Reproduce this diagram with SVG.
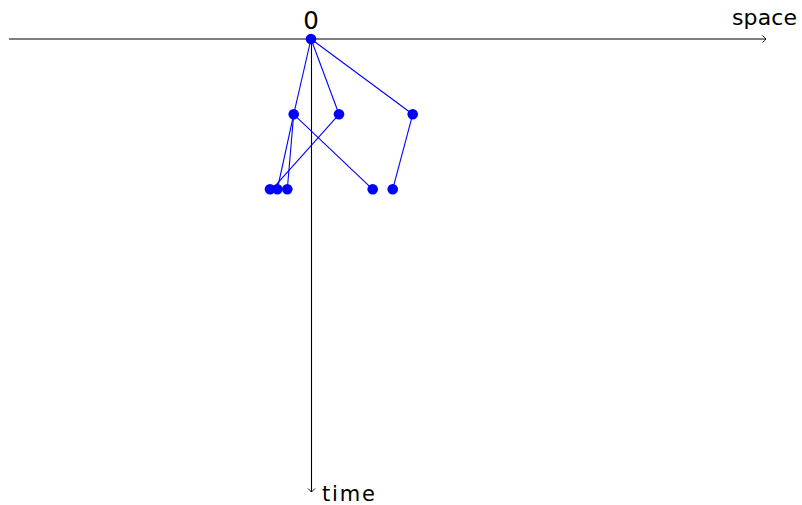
<svg xmlns="http://www.w3.org/2000/svg" width="802" height="505" viewBox="0 0 802 505">
<style>
.axis{stroke:#000;stroke-width:1.1;fill:none}
.edge{stroke:#0000ff;stroke-width:1.1;fill:none}
.node{fill:#0000ff}
.lbl{font-family:"DejaVu Sans",sans-serif;fill:#000}
</style>
<defs>
<marker id="arr" markerWidth="10" markerHeight="10" refX="5" refY="5" orient="auto" markerUnits="userSpaceOnUse">
<path d="M1.5,1.5 Q4,4 5,5 Q4,6 1.5,8.5" fill="none" stroke="#000" stroke-width="1"/>
</marker>
</defs>
<g id="axes">
<line class="axis" x1="9" y1="39" x2="766" y2="39" marker-end="url(#arr)"/>
<line class="axis" x1="311.5" y1="39" x2="311.5" y2="492" marker-end="url(#arr)"/>
<text class="lbl" x="732" y="25" font-size="22" textLength="65">space</text>
<text class="lbl" x="322" y="501" font-size="21" textLength="53">time</text>
<text class="lbl" x="311" y="29" font-size="24.5" text-anchor="middle">0</text>
</g>
<g id="connectors">
<line class="edge" x1="311" y1="39" x2="293.7" y2="114.3"/>
<line class="edge" x1="311" y1="39" x2="339" y2="114.3"/>
<line class="edge" x1="311" y1="39" x2="412.7" y2="114.3"/>
<line class="edge" x1="293.7" y1="114.3" x2="277.3" y2="189.3"/>
<line class="edge" x1="293.7" y1="114.3" x2="287.3" y2="189.3"/>
<line class="edge" x1="293.7" y1="114.3" x2="372.7" y2="189.3"/>
<line class="edge" x1="339" y1="114.3" x2="272" y2="189.3"/>
<line class="edge" x1="412.7" y1="114.3" x2="392.7" y2="189.3"/>
</g>
<g id="n0"><circle class="node" cx="311" cy="39" r="5.3"/></g>
<g id="n1"><circle class="node" cx="293.7" cy="114.3" r="5.3"/></g>
<g id="n2"><circle class="node" cx="339" cy="114.3" r="5.3"/></g>
<g id="n3"><circle class="node" cx="412.7" cy="114.3" r="5.3"/></g>
<g id="n4"><circle class="node" cx="270" cy="189.3" r="5.3"/></g>
<g id="n5"><circle class="node" cx="277.3" cy="189.3" r="5.3"/></g>
<g id="n6"><circle class="node" cx="287.3" cy="189.3" r="5.3"/></g>
<g id="n7"><circle class="node" cx="372.7" cy="189.3" r="5.3"/></g>
<g id="n8"><circle class="node" cx="392.7" cy="189.3" r="5.3"/></g>
</svg>
